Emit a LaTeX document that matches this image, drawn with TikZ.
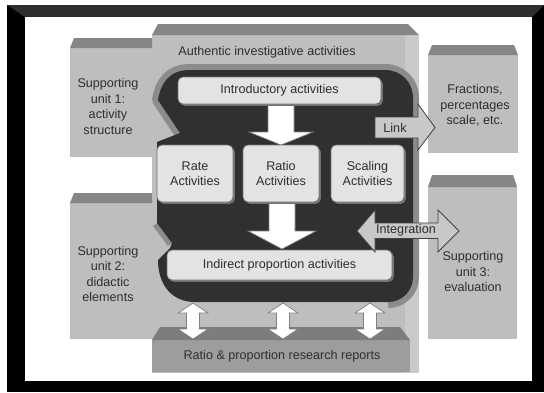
\documentclass[tikz,border=0pt]{standalone}
\usepackage{fontspec}
\setmainfont{Liberation Sans}
\usetikzlibrary{shadows,calc}
\definecolor{txt}{HTML}{2E2E2E}
\definecolor{front}{HTML}{BEBEBE}
\definecolor{side}{HTML}{CACACA}
\definecolor{topf}{HTML}{868686}
\definecolor{darkr}{HTML}{303030}
\definecolor{ring}{HTML}{8C8C8C}
\definecolor{ibox}{HTML}{E3E3E3}
\definecolor{arrg}{HTML}{C8C8C8}
\definecolor{resf}{HTML}{9D9D9D}
\definecolor{rest}{HTML}{7D7D7D}
\begin{document}
\begin{tikzpicture}[x=1pt,y=-1pt,
  every node/.style={font=\fontsize{12.6}{15.5}\selectfont, text=txt, inner sep=0pt, align=center},
  inbox/.style={rounded corners=5pt, fill=ibox, draw=black!55, line width=0.7pt,
     drop shadow={shadow xshift=1.8pt, shadow yshift=-1.8pt, fill=black!55, opacity=1}},
  whitearr/.style={fill=white, draw=black!50, line width=0.7pt},
  grayarr/.style={fill=arrg, draw=black!75, line width=0.8pt},
  frontface/.style={fill=front},
  topface/.style={fill=topf},
]
\useasboundingbox (0,0) rectangle (544,392);
% frame
\fill[black] (7,5) rectangle (544,392);
\fill[black!82] (7,5) -- (544,5) -- (532,17) -- (25,17) -- cycle;
\fill[white] (25,17) rectangle (532,381);
% authentic investigative activities box
\fill[frontface] (152,35) rectangle (419,373);
\fill[side] (405,35) rectangle (419,373);
\fill[topface] (152,35) -- (158,24) -- (408,24) -- (419,35) -- cycle;
\node (aia) at (267,52) {Authentic investigative activities};
% supporting unit 1
\fill[frontface] (70,48) rectangle (152,157);
\fill[topface] (70,48) -- (74,38) -- (152,38) -- (152,48) -- cycle;
\node (su1) at (108,106.5) {Supporting\\unit 1:\\activity\\structure};
% supporting unit 2
\fill[frontface] (70,203) rectangle (152,339);
\fill[topface] (70,203) -- (74,193) -- (152,193) -- (152,203) -- cycle;
\node (su2) at (108,274) {Supporting\\unit 2:\\didactic\\elements};
% fractions
\fill[frontface] (428,55) rectangle (518,153);
\fill[topface] (428,55) -- (432,45) -- (514,45) -- (518,55) -- cycle;
\node (frac) at (475,105.5) {Fractions,\\percentages\\scale, etc.};
% supporting unit 3
\fill[frontface] (428,187) rectangle (517,339);
\fill[topface] (428,187) -- (432,175) -- (513,175) -- (517,187) -- cycle;
\node (su3) at (473,271.5) {Supporting\\unit 3:\\evaluation};
% research reports
\fill[resf] (152,340) rectangle (410,372);
\fill[rest] (152,340) -- (160,327) -- (400,327) -- (410,340) -- cycle;
\node (res) at (282,356) {Ratio \& proportion research reports};
% dark region with ring
\draw[ring, line width=12pt, line cap=butt, line join=round]
  (180,133) -- (158,100) .. controls (161,82) and (170,70) .. (190,70) -- (385,70)
  .. controls (401,70) and (413,82) .. (413,98) -- (413,277)
  .. controls (413,291) and (402,302) .. (388,302);
\draw[ring, line width=10pt, line cap=butt] (157,223) -- (172,243);
\fill[darkr] (190,70) -- (385,70) .. controls (401,70) and (413,82) .. (413,98) -- (413,277)
  .. controls (413,291) and (402,302) .. (388,302) -- (195,302)
  .. controls (172,302) and (158,285) .. (158,260) -- (170,248) -- (172,243) -- (157,223)
  -- (157,142) -- (180,133) -- (158,100) .. controls (161,82) and (170,70) .. (190,70) -- cycle;
% down arrows
\filldraw[whitearr] (268,104) -- (294,104) -- (294,132) -- (313,132) -- (281,145) -- (249,132) -- (268,132) -- cycle;
\filldraw[whitearr] (269,202) -- (295,202) -- (295,231) -- (316,231) -- (282,249) -- (248,231) -- (269,231) -- cycle;
% inner boxes
\node[inbox, minimum width=203pt, minimum height=27pt] (intro) at (279.5,90.5) {Introductory activities};
\node[inbox, minimum width=76pt, minimum height=57pt] (rate) at (195,173.5) {Rate\\Activities};
\node[inbox, minimum width=76pt, minimum height=57pt] (ratio) at (281,173.5) {Ratio\\Activities};
\node[inbox, minimum width=73pt, minimum height=57pt] (scal) at (367.5,173.5) {Scaling\\Activities};
\node[inbox, minimum width=225pt, minimum height=30pt] (indir) at (279.5,265) {Indirect proportion activities};
% vertical double arrows
\foreach \cx in {193,283,370} {
  \filldraw[whitearr] (\cx-6.5,313) -- (\cx-15,313) -- (\cx,303) -- (\cx+15,313) -- (\cx+6.5,313)
    -- (\cx+6.5,329) -- (\cx+15,329) -- (\cx,339) -- (\cx-15,329) -- (\cx-6.5,329) -- cycle;
}
% link arrow
\filldraw[grayarr] (375,117) -- (418,117) -- (418,104) -- (435,127.5) -- (418,150) -- (418,138) -- (375,138) -- cycle;
\node (link) at (395,128) {Link};
% integration arrow
\filldraw[grayarr] (357,231) -- (375,210) -- (375,223) -- (438,223) -- (438,210) -- (459,231) -- (438,252) -- (438,238.5) -- (375,238.5) -- (375,252) -- cycle;
\node (integ) at (406,230.5) {Integration};
\end{tikzpicture}
\end{document}
